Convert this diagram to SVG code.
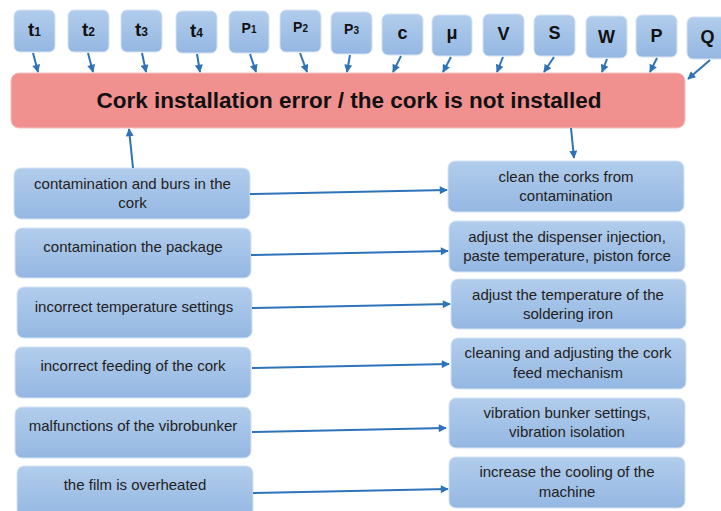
<svg xmlns="http://www.w3.org/2000/svg" width="721" height="511" viewBox="0 0 721 511">
<defs>
<linearGradient id="bg" x1="0" y1="0" x2="0" y2="1">
<stop offset="0" stop-color="#b2cdec"/>
<stop offset="1" stop-color="#94b7e2"/>
</linearGradient>
<marker id="ah" viewBox="0 0 10 10" refX="9" refY="5" markerWidth="9" markerHeight="8" markerUnits="userSpaceOnUse" orient="auto">
<path d="M0,0 L10,5 L0,10 z" fill="#2e72b8"/>
</marker>
</defs>
<style>
.box{fill:url(#bg);stroke:#d3e2f4;stroke-width:1}
.red{fill:#f0908f;stroke:#f6c0bf;stroke-width:1}
.lbl{font-family:"Liberation Sans",Arial,sans-serif;font-weight:bold;fill:#111;text-anchor:middle}
.txt{font-family:"Liberation Sans",Arial,sans-serif;font-size:15px;fill:#222;text-anchor:middle}
.title{font-family:"Liberation Sans",Arial,sans-serif;font-size:22.5px;font-weight:bold;fill:#111;text-anchor:middle}
.con line{stroke:#2e72b8;stroke-width:2;marker-end:url(#ah)}
</style>
<rect width="721" height="511" fill="#ffffff"/>

<g id="t1"><rect class="box" x="14" y="10" width="41" height="42" rx="6"/><text class="lbl" x="34.5" y="36" font-size="19">t<tspan font-size="12">1</tspan></text></g>
<g id="t2"><rect class="box" x="68" y="10" width="41" height="42" rx="6"/><text class="lbl" x="88.5" y="36" font-size="19">t<tspan font-size="12">2</tspan></text></g>
<g id="t3"><rect class="box" x="121" y="10" width="41" height="42" rx="6"/><text class="lbl" x="141.5" y="36" font-size="19">t<tspan font-size="12">3</tspan></text></g>
<g id="t4"><rect class="box" x="176" y="11" width="41" height="42" rx="6"/><text class="lbl" x="196.5" y="37" font-size="19">t<tspan font-size="12">4</tspan></text></g>
<g id="P1"><rect class="box" x="229" y="11" width="40" height="42" rx="6"/><text class="lbl" x="249" y="33" font-size="14">P<tspan font-size="10">1</tspan></text></g>
<g id="P2"><rect class="box" x="280" y="10" width="41" height="42" rx="6"/><text class="lbl" x="300.5" y="32" font-size="14">P<tspan font-size="10">2</tspan></text></g>
<g id="P3"><rect class="box" x="331" y="12" width="41" height="42" rx="6"/><text class="lbl" x="351.5" y="34" font-size="14">P<tspan font-size="10">3</tspan></text></g>
<g id="c"><rect class="box" x="382" y="14" width="41" height="41" rx="6"/><text class="lbl" x="402.5" y="39" font-size="18">c</text></g>
<g id="mu"><rect class="box" x="432" y="15" width="40" height="41" rx="6"/><text class="lbl" x="452" y="39" font-size="18">μ</text></g>
<g id="V"><rect class="box" x="483" y="14" width="41" height="42" rx="6"/><text class="lbl" x="503.5" y="40" font-size="18">V</text></g>
<g id="S"><rect class="box" x="534" y="15" width="41" height="41" rx="6"/><text class="lbl" x="554.5" y="39" font-size="18">S</text></g>
<g id="W"><rect class="box" x="586" y="16" width="41" height="42" rx="6"/><text class="lbl" x="606.5" y="43" font-size="18">W</text></g>
<g id="P"><rect class="box" x="636" y="15" width="41" height="42" rx="6"/><text class="lbl" x="656.5" y="42" font-size="18">P</text></g>
<g id="Q"><rect class="box" x="687" y="17" width="41" height="42" rx="6"/><text class="lbl" x="707.5" y="43" font-size="18">Q</text></g>

<g id="main"><rect class="red" x="11" y="73" width="674" height="55" rx="8"/><text class="title" x="349" y="108">Cork installation error / the cork is not installed</text></g>

<g id="cause1"><rect class="box" x="14" y="168" width="236" height="51" rx="7"/><text class="txt" x="132.5" y="189">contamination and burs in the</text><text class="txt" x="132.5" y="208">cork</text></g>
<g id="cause2"><rect class="box" x="15" y="228" width="236" height="50" rx="7"/><text class="txt" x="133" y="252">contamination the package</text></g>
<g id="cause3"><rect class="box" x="17" y="287" width="235" height="51" rx="7"/><text class="txt" x="134" y="312">incorrect temperature settings</text></g>
<g id="cause4"><rect class="box" x="15" y="347" width="236" height="51" rx="7"/><text class="txt" x="133" y="371">incorrect feeding of the cork</text></g>
<g id="cause5"><rect class="box" x="15" y="407" width="236" height="51" rx="7"/><text class="txt" x="133" y="431">malfunctions of the vibrobunker</text></g>
<g id="cause6"><rect class="box" x="17" y="466" width="236" height="51" rx="7"/><text class="txt" x="135" y="490">the film is overheated</text></g>

<g id="fix1"><rect class="box" x="448" y="161" width="236" height="51" rx="7"/><text class="txt" x="566" y="182">clean the corks from</text><text class="txt" x="566" y="201">contamination</text></g>
<g id="fix2"><rect class="box" x="449" y="221" width="236" height="51" rx="7"/><text class="txt" x="567" y="242">adjust the dispenser injection,</text><text class="txt" x="567" y="261">paste temperature, piston force</text></g>
<g id="fix3"><rect class="box" x="451" y="279" width="235" height="50" rx="7"/><text class="txt" x="568" y="300">adjust the temperature of the</text><text class="txt" x="568" y="319">soldering iron</text></g>
<g id="fix4"><rect class="box" x="451" y="338" width="235" height="51" rx="7"/><text class="txt" x="568" y="358">cleaning and adjusting the cork</text><text class="txt" x="568" y="378">feed mechanism</text></g>
<g id="fix5"><rect class="box" x="449" y="398" width="236" height="50" rx="7"/><text class="txt" x="567" y="418">vibration bunker settings,</text><text class="txt" x="567" y="437">vibration isolation</text></g>
<g id="fix6"><rect class="box" x="449" y="457" width="236" height="51" rx="7"/><text class="txt" x="567" y="477">increase the cooling of the</text><text class="txt" x="567" y="497">machine</text></g>

<g id="connectors" class="con">
<line x1="33" y1="53" x2="38" y2="72"/>
<line x1="88" y1="53" x2="93" y2="72"/>
<line x1="142" y1="53" x2="146" y2="72"/>
<line x1="197" y1="54" x2="200" y2="72"/>
<line x1="250" y1="54" x2="256" y2="72"/>
<line x1="300" y1="53" x2="307" y2="72"/>
<line x1="350" y1="55" x2="347" y2="72"/>
<line x1="401" y1="56" x2="393" y2="72"/>
<line x1="451" y1="57" x2="443" y2="72"/>
<line x1="503" y1="57" x2="497" y2="72"/>
<line x1="554" y1="57" x2="544" y2="72"/>
<line x1="607" y1="59" x2="602" y2="72"/>
<line x1="657" y1="58" x2="650" y2="72"/>
<line x1="710" y1="60" x2="688" y2="79"/>
<line x1="133" y1="168" x2="129" y2="129"/>
<line x1="571" y1="128" x2="574" y2="158"/>
<line x1="250" y1="194" x2="447" y2="190"/>
<line x1="251" y1="255" x2="448" y2="251"/>
<line x1="252" y1="308" x2="450" y2="304"/>
<line x1="252" y1="368" x2="449" y2="364"/>
<line x1="252" y1="432" x2="446" y2="428"/>
<line x1="253" y1="493" x2="448" y2="489"/>
</g>
</svg>
